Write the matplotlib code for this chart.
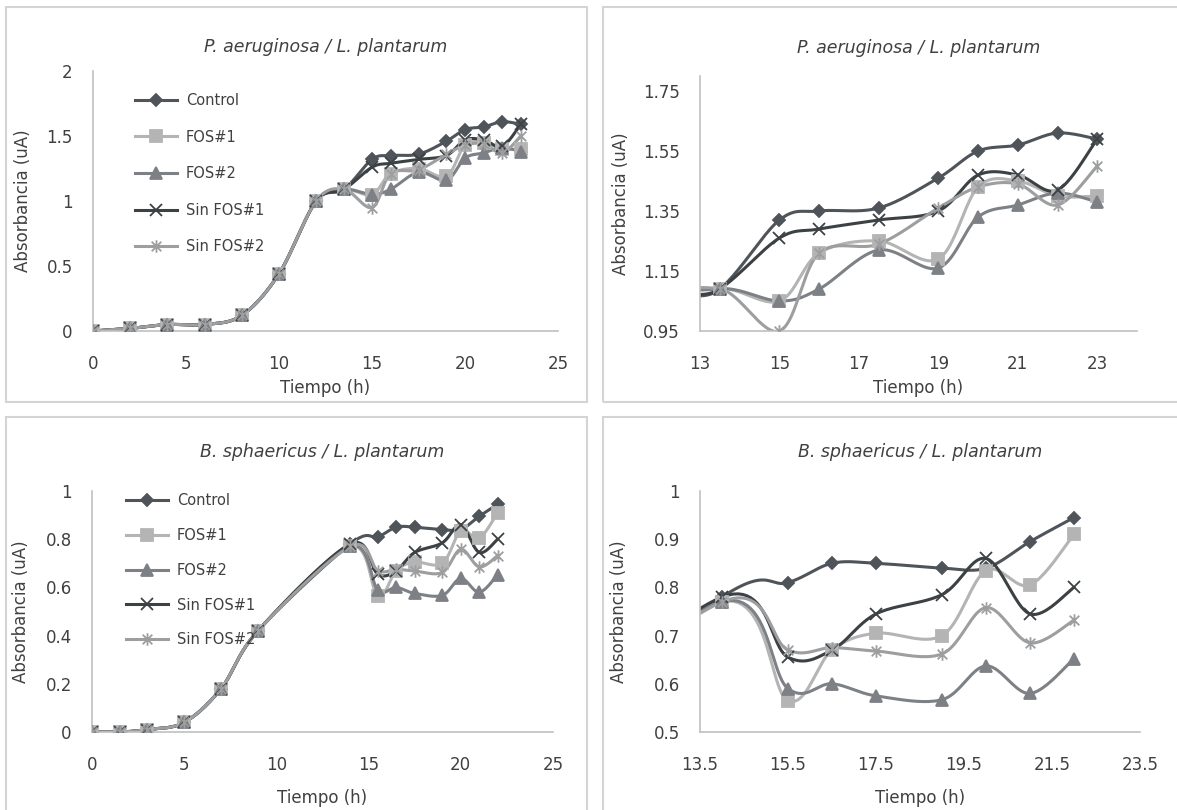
import numpy as np
import matplotlib.pyplot as plt
from matplotlib.lines import Line2D
from matplotlib.patches import Rectangle
from matplotlib.path import Path

plt.rcParams['font.family'] = ['DejaVu Sans']

# P. aeruginosa / L. plantarum
pa_time = [0, 2, 4, 6, 8, 10, 12, 13.5, 15, 16, 17.5, 19, 20, 21, 22, 23]
pa_early = [0, 0.02, 0.05, 0.05, 0.12, 0.44, 1.0, 1.09]
pa_control = [1.32, 1.35, 1.36, 1.46, 1.55, 1.57, 1.61, 1.59]
pa_fos1 = [1.05, 1.21, 1.25, 1.19, 1.43, 1.45, 1.40, 1.40]
pa_fos2 = [1.05, 1.09, 1.22, 1.16, 1.33, 1.37, 1.41, 1.38]
pa_sin1 = [1.26, 1.29, 1.32, 1.35, 1.47, 1.47, 1.42, 1.59]
pa_sin2 = [0.95, 1.21, 1.24, 1.36, 1.43, 1.44, 1.37, 1.50]

# B. sphaericus / L. plantarum
bs_time = [0, 1.5, 3, 5, 7, 9, 14, 15.5, 16.5, 17.5, 19, 20, 21, 22]
bs_early = [0, 0.0, 0.01, 0.04, 0.18, 0.42]
bs_control = [0.78, 0.81, 0.85, 0.85, 0.84, 0.84, 0.895, 0.945]
bs_fos1 = [0.77, 0.565, 0.67, 0.705, 0.70, 0.835, 0.805, 0.91]
bs_fos2 = [0.77, 0.59, 0.60, 0.575, 0.567, 0.637, 0.58, 0.652]
bs_sin1 = [0.78, 0.655, 0.67, 0.745, 0.785, 0.86, 0.745, 0.80]
bs_sin2 = [0.77, 0.67, 0.675, 0.668, 0.662, 0.758, 0.685, 0.732]

labels = ['Control', 'FOS#1', 'FOS#2', 'Sin FOS#1', 'Sin FOS#2']
colors = ['#4e5459', '#b4b4b4', '#7d8186', '#3c4144', '#9c9ea0']

# Excel-like asterisk: X plus vertical bar
ast = Path([(-1, -1), (1, 1), (-1, 1), (1, -1), (0, -1.3), (0, 1.3)],
           [Path.MOVETO, Path.LINETO, Path.MOVETO, Path.LINETO, Path.MOVETO, Path.LINETO])
markers = ['D', 's', '^', 'x', ast]
msizes = [6, 8, 8, 9, 9]

W, H = 1177, 810
fig = plt.figure(figsize=(W / 100, H / 100), dpi=100)

# panel frames
for x0, y0, x1, y1 in [(6, 7, 587, 402), (603, 7, 1190, 402),
                       (6, 417, 587, 830), (603, 417, 1190, 830)]:
    fig.patches.append(Rectangle((x0 / W, 1 - y1 / H), (x1 - x0) / W, (y1 - y0) / H,
                                 transform=fig.transFigure, fill=False,
                                 edgecolor='#d4d4d4', lw=1.5))


def smooth(ax, xs, ys, n=24):
    # bezier smoothing in screen space, like Excel's smoothed line
    p = ax.transData.transform(np.column_stack([xs, ys]))
    out = [p[0]]
    for i in range(len(p) - 1):
        p0 = p[i - 1] if i > 0 else p[i]
        p3 = p[i + 2] if i + 2 < len(p) else p[i + 1]
        c1 = p[i] + (p[i + 1] - p0) / 6
        c2 = p[i + 1] - (p3 - p[i]) / 6
        t = np.linspace(0, 1, n)[1:, None]
        seg = ((1 - t) ** 3) * p[i] + 3 * ((1 - t) ** 2) * t * c1 + 3 * (1 - t) * t ** 2 * c2 + t ** 3 * p[i + 1]
        out.extend(seg)
    d = ax.transData.inverted().transform(np.array(out))
    return d[:, 0], d[:, 1]


def panel(rect, time, series, xlim, ylim, xticks, yticks, title, title_y, legend_at=None):
    ax = fig.add_axes([rect[0] / W, 1 - rect[3] / H, (rect[2] - rect[0]) / W, (rect[3] - rect[1]) / H])
    ax.set_xlim(*xlim)
    ax.set_ylim(*ylim)
    for s, c, m, ms in zip(series, colors, markers, msizes):
        sx, sy = smooth(ax, time, s)
        ax.plot(sx, sy, color=c, lw=2.2, solid_capstyle='round', zorder=2)
        ax.plot(time, s, ls='none', marker=m, ms=ms, color=c, mec=c, mew=1.3, zorder=3)
    for sp in ['top', 'right']:
        ax.spines[sp].set_visible(False)
    for sp in ['left', 'bottom']:
        ax.spines[sp].set_color('#c0c0c0')
        ax.spines[sp].set_linewidth(1.2)
    ax.set_xticks(xticks)
    ax.set_yticks(yticks)
    ax.set_xticklabels([f'{v:g}' for v in xticks])
    ax.set_yticklabels([f'{v:g}' for v in yticks])
    ax.tick_params(length=0, labelsize=12, colors='#404040')
    ax.tick_params(axis='x', pad=17.5)
    ax.tick_params(axis='y', pad=14.5)
    ax.set_xlabel('Tiempo (h)', fontsize=12, color='#404040')
    ax.set_ylabel('Absorbancia (uA)', fontsize=12, color='#404040')
    ax.text(0.5, title_y, title, transform=ax.transAxes, ha='center', va='center',
            fontsize=12.5, style='italic', color='#404040')
    if legend_at is not None:
        handles = [Line2D([], [], color=c, lw=2.2, marker=m, ms=ms, mec=c, mew=1.3)
                   for c, m, ms in zip(colors, markers, msizes)]
        ax.legend(handles, labels, loc='upper left', frameon=False,
                  bbox_to_anchor=(legend_at[0] / W, 1 - legend_at[1] / H),
                  bbox_transform=fig.transFigure, fontsize=10.5, labelcolor='#404040',
                  handlelength=2.9, handletextpad=0.6, labelspacing=legend_at[2],
                  borderpad=0, borderaxespad=0)
    return ax


pa_series = [pa_early + v for v in [pa_control, pa_fos1, pa_fos2, pa_sin1, pa_sin2]]
bs_series = [bs_early + v for v in [bs_control, bs_fos1, bs_fos2, bs_sin1, bs_sin2]]

ax1 = panel((93, 71, 558, 331), pa_time, pa_series, (0, 25), (0, 2),
            [0, 5, 10, 15, 20, 25], [0, 0.5, 1, 1.5, 2],
            'P. aeruginosa / L. plantarum', 1.092, legend_at=(135, 93, 1.48))
ax1.xaxis.set_label_coords(0.5, -0.185)
ax1.yaxis.set_label_coords(-0.132, 0.5)

ax2 = panel((700, 76, 1137, 331), pa_time, pa_series, (13, 24), (0.95, 1.80),
            [13, 15, 17, 19, 21, 23], [0.95, 1.15, 1.35, 1.55, 1.75],
            'P. aeruginosa / L. plantarum', 1.11)
ax2.xaxis.set_label_coords(0.5, -0.188)
ax2.yaxis.set_label_coords(-0.160, 0.5)

ax3 = panel((92, 491, 553, 732), bs_time, bs_series, (0, 25), (0, 1),
            [0, 5, 10, 15, 20, 25], [0, 0.2, 0.4, 0.6, 0.8, 1],
            'B. sphaericus / L. plantarum', 1.162, legend_at=(126, 493, 1.36))
ax3.xaxis.set_label_coords(0.5, -0.237)
ax3.yaxis.set_label_coords(-0.134, 0.5)

ax4 = panel((700, 491, 1140, 732), bs_time, bs_series, (13.5, 23.5), (0.5, 1),
            [13.5, 15.5, 17.5, 19.5, 21.5, 23.5], [0.5, 0.6, 0.7, 0.8, 0.9, 1],
            'B. sphaericus / L. plantarum', 1.162)
ax4.xaxis.set_label_coords(0.5, -0.237)
ax4.yaxis.set_label_coords(-0.164, 0.5)

fig.savefig('out.png', dpi=100)
